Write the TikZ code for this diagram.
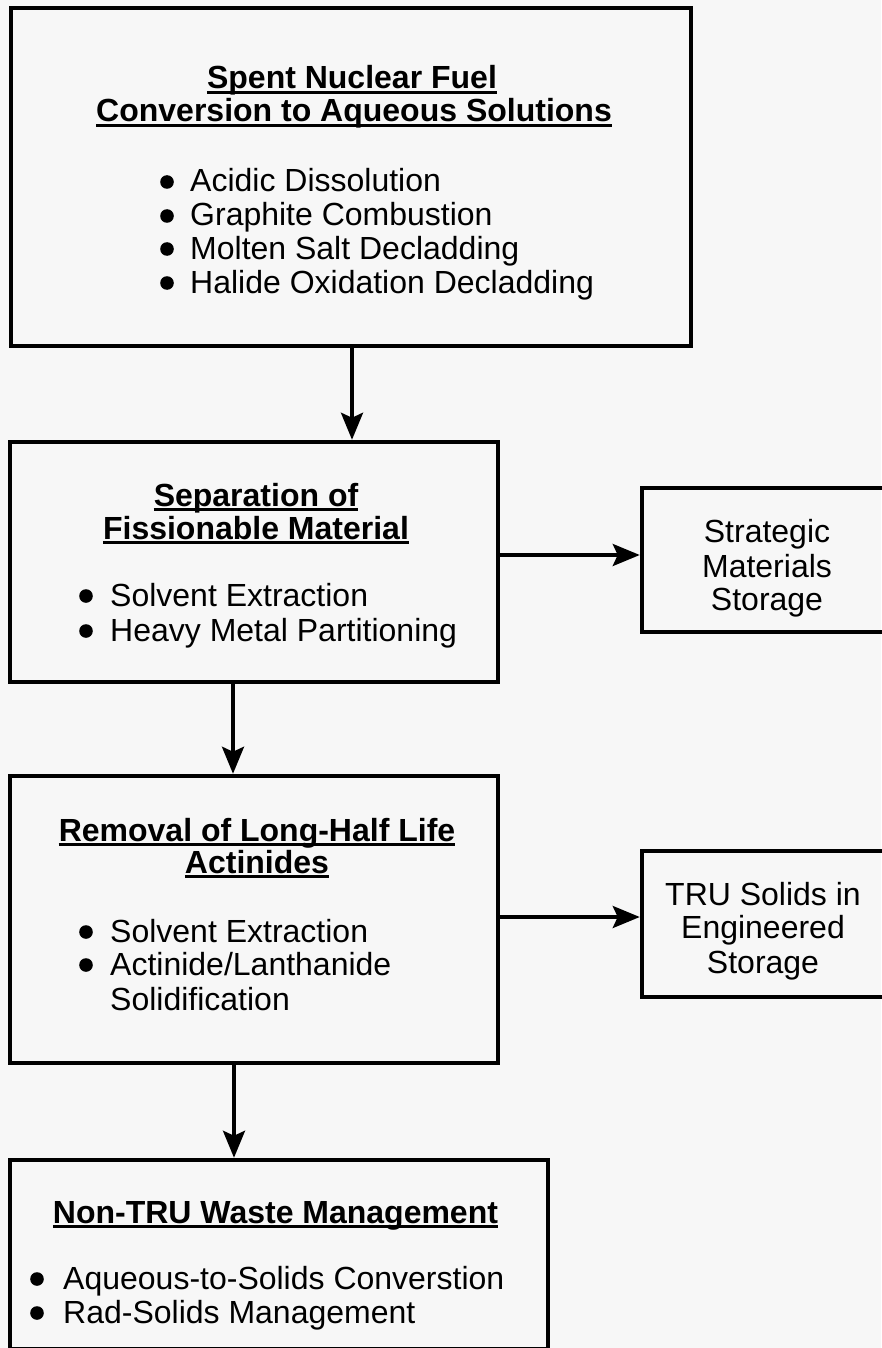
\documentclass[tikz,border=0pt]{standalone}
\usepackage{fontspec}
\setmainfont{Liberation Sans}
\usetikzlibrary{arrows.meta}
\definecolor{paper}{RGB}{247,247,247}
\tikzset{
  box/.style={draw=black, line width=4.5pt, fill=none, inner sep=0pt, minimum width=#1},
  flow/.style={draw=black, line width=3.5pt, -{Stealth[length=27pt,width=22pt,inset=5pt]}},
  head/.style={anchor=base, inner sep=0pt, font=\fontsize{32}{34}\selectfont\bfseries},
  item/.style={anchor=base west, inner sep=0pt, font=\fontsize{32}{34}\selectfont},
  plain/.style={anchor=base, inner sep=0pt, font=\fontsize{32}{34}\selectfont},
  uline/.style={line width=3pt}
}
% bullet dot placed 10 units above the baseline of an item line
\newcommand\dotat[2]{\fill (#1,#2-10) circle (6.8);}
% underline for a heading node
\newcommand\under[1]{\draw[uline] ([yshift=-3.5pt]#1.base west) -- ([yshift=-3.5pt]#1.base east);}
\begin{document}
\begin{tikzpicture}[x=1pt, y=-1pt]
\fill[paper] (0,0) rectangle (881,1348);
\useasboundingbox (0,0) rectangle (881,1348);

% ---- boxes
\node[box=680pt, minimum height=338pt] (b1) at (351,177) {};
\node[box=488pt, minimum height=240pt] (b2) at (254,562) {};
\node[box=248pt, minimum height=144pt] (b3) at (766,560) {};
\node[box=488pt, minimum height=287pt] (b4) at (254,919.5) {};
\node[box=248pt, minimum height=146pt] (b5) at (766,924) {};
\node[box=538pt, minimum height=189pt] (b6) at (279,1254.5) {};

% ---- spent fuel conversion
\node[head] (h1a) at (352,89) {Spent Nuclear Fuel};
\node[head] (h1b) at (354,122) {Conversion to Aqueous Solutions};
\under{h1a}\under{h1b}
\dotat{167}{192}\node[item] (i1a) at (190,192) {Acidic Dissolution};
\dotat{167}{226}\node[item] (i1b) at (190,226) {Graphite Combustion};
\dotat{167}{259}\node[item] (i1c) at (190,259) {Molten Salt Decladding};
\dotat{167}{293}\node[item] (i1d) at (190,293) {Halide Oxidation Decladding};

% ---- separation of fissionable material
\node[head] (h2a) at (256,506) {Separation of};
\node[head] (h2b) at (256,539) {Fissionable Material};
\under{h2a}\under{h2b}
\dotat{86}{606}\node[item] (i2a) at (110,606) {Solvent Extraction};
\dotat{86}{641}\node[item] (i2b) at (110,641) {Heavy Metal Partitioning};

% ---- strategic materials storage
\node[plain] (s3a) at (767,542) {Strategic};
\node[plain] (s3b) at (767,577) {Materials};
\node[plain] (s3c) at (767,610) {Storage};

% ---- removal of actinides
\node[head] (h4a) at (257,841) {Removal of Long-Half Life};
\node[head] (h4b) at (257,873) {Actinides};
\under{h4a}\under{h4b}
\dotat{86}{942}\node[item] (i4a) at (110,942) {Solvent Extraction};
\dotat{86}{975}\node[item] (i4b) at (110,975) {Actinide/Lanthanide};
\node[item] (i4c) at (110,1010) {Solidification};

% ---- TRU solids storage
\node[plain] (s5a) at (763,905) {TRU Solids in};
\node[plain] (s5b) at (763,938) {Engineered};
\node[plain] (s5c) at (763,973) {Storage};

% ---- non-TRU waste
\node[head] (h6a) at (275.5,1223) {Non-TRU Waste Management};
\under{h6a}
\dotat{37}{1289}\node[item] (i6a) at (63,1289) {Aqueous-to-Solids Converstion};
\dotat{37}{1323}\node[item] (i6b) at (63,1323) {Rad-Solids Management};

% ---- connectors
\draw[flow] ([xshift=1pt]b1.south) -- ([xshift=1pt]b1.south |- b2.north);
\draw[flow] ([xshift=-21pt]b2.south) -- ([xshift=-21pt]b2.south |- b4.north);
\draw[flow] ([xshift=-20pt]b4.south) -- ([xshift=-20pt]b4.south |- b6.north);
\draw[flow] ([yshift=5pt]b3.west -| b2.east) -- ([yshift=5pt]b3.west);
\draw[flow] ([yshift=7pt]b5.west -| b4.east) -- ([yshift=7pt]b5.west);
\end{tikzpicture}
\end{document}
